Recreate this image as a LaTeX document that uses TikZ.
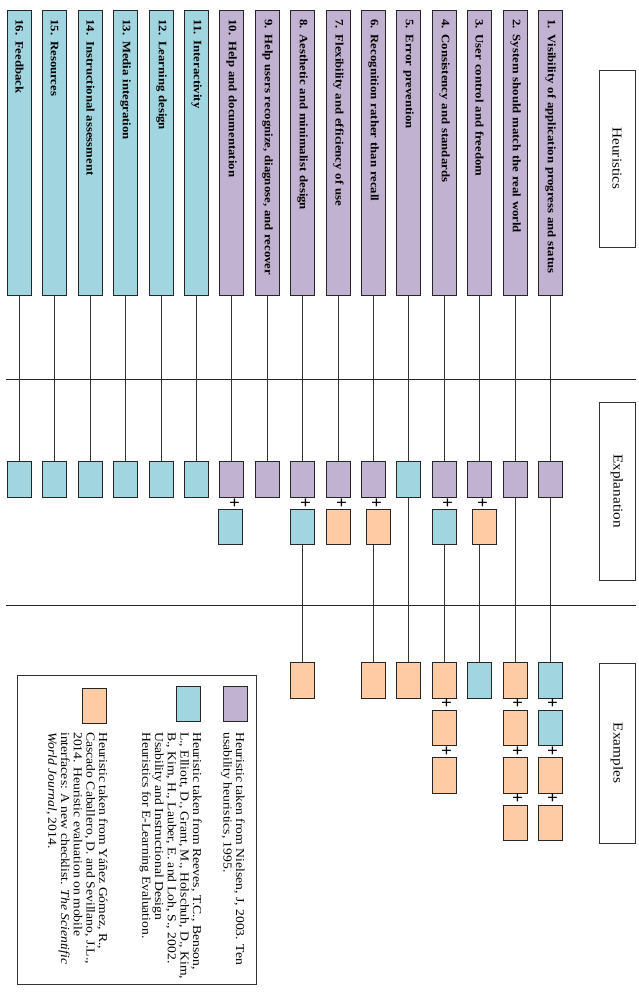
\documentclass[tikz,border=0pt]{standalone}
\usepackage{fontspec}
\setmainfont[FakeStretch=1.12]{Liberation Serif}

\definecolor{nielsen}{RGB}{194,178,209}
\definecolor{reeves}{RGB}{161,213,224}
\definecolor{yanez}{RGB}{255,203,165}

\tikzset{
    heur/.style={draw=black!85, line width=0.9pt, rotate=-90, minimum width=285pt, minimum height=24pt,
        text width=266pt, align=left, inner sep=0pt, font=\fontsize{11.4}{12}\selectfont\bfseries},
    card/.style={draw=black!85, line width=0.9pt, minimum width=24pt, minimum height=35.5pt, inner sep=0pt},
    head/.style={draw=black!80, line width=0.8pt, rotate=-90, minimum height=36pt, font=\fontsize{13.6}{15}\selectfont},
    plus/.style={inner sep=0pt, font=\fontsize{17}{17}\selectfont\bfseries},
    link/.style={draw=black!80, line width=1.6pt},
    refnote/.style={rotate=-90, anchor=north west, align=left, inner sep=0pt, font=\fontsize{12.2}{12.7}\selectfont}
}

\begin{document}
\begin{tikzpicture}[x=1pt, y=-1pt]
    \useasboundingbox (0,0) rectangle (639,992);

    % Section separators
    \draw[line width=1.2pt, black!85] (6,379.5) -- (636,379.5);
    \draw[line width=1.2pt, black!85] (6,605.5) -- (636,605.5);

    % Section headings
    \node[head, minimum width=177pt] (hHeur) at (617,158.5) {Heuristics};
    \node[head, minimum width=178pt] (hExpl) at (617,491) {Explanation};
    \node[head, minimum width=180pt] (hExam) at (617,753) {Examples};

    % Heuristics and first explanation card
    \foreach \i/\word/\col in {1/{1. Visibility of application progress and status}/nielsen,
            2/{2. System should match the real world}/nielsen,
            3/{3. User control and freedom}/nielsen,
            4/{4. Consistency and standards}/nielsen,
            5/{5. Error prevention}/nielsen,
            6/{6. Recognition rather than recall}/nielsen,
            7/{7. Flexibility and efficiency of use}/nielsen,
            8/{8. Aesthetic and minimalist design}/nielsen,
            9/{9. Help users recognize, diagnose, and recover}/nielsen,
            10/{10. Help and documentation}/nielsen,
            11/{11. Interactivity}/reeves,
            12/{12. Learning design}/reeves,
            13/{13. Media integration}/reeves,
            14/{14. Instructional assessment}/reeves,
            15/{15. Resources}/reeves,
            16/{16. Feedback}/reeves} {
        \pgfmathsetmacro\x{round(550-(\i-1)*35.4)+0.5}
        \node[heur, fill=\col] (h\i) at (\x,152.5) {\word};
        \pgfmathsetmacro\ecol{\i==5 ? "reeves" : "\col"}
        \node[card, fill=\ecol] (e\i) at (\x,479.5) {};
        \draw[link] (h\i.east) -- (e\i);
    }

    % Second explanation card
    \foreach \i/\col/\dx in {3/yanez/5, 4/reeves/0, 6/yanez/5, 7/yanez/0, 8/reeves/0, 10/reeves/-1} {
        \pgfmathsetmacro\x{round(550-(\i-1)*35.4)+0.5}
        \node[plus] (pe\i) at ({\x+3},503.5) {+};
        \node[card, fill=\col] (eb\i) at ({\x+\dx},527) {};
    }

    % Examples
    \foreach \i/\list in {1/{reeves,reeves,yanez,yanez}, 2/{yanez,yanez,yanez,yanez},
            3/{reeves}, 4/{yanez,yanez,yanez}, 5/{yanez}, 6/{yanez}, 8/{yanez}} {
        \pgfmathsetmacro\x{round(550-(\i-1)*35.4)+0.5}
        \foreach \c [count=\k] in \list {
            \node[card, fill=\c] (x\i-\k) at ({\x},{680.5+(\k-1)*47.5}) {};
            \ifnum\k>1
                \node[plus] (px\i-\k) at ({\x+2},{656.5+(\k-1)*47.5}) {+};
            \fi
        }
    }

    % Links from explanation to examples
    \draw[link] (e1) -- (x1-1);
    \draw[link] (e2) -- (x2-1);
    \draw[link] (x3-1.north |- eb3.south) -- (x3-1);
    \draw[link] (eb4) -- (x4-1);
    \draw[link] (e5) -- (x5-1);
    \draw[link] (x6-1.north |- eb6.south) -- (x6-1);
    \draw[link] (eb8) -- (x8-1);

    % Legend
    \node[draw=black!80, line width=0.8pt, minimum width=239pt, minimum height=309pt] (legend) at (136.5,829.5) {};
    \node[card, fill=nielsen] (kNielsen) at (235,704) {};
    \node[card, fill=reeves] (kReeves) at (188.5,704) {};
    \node[card, fill=yanez] (kYanez) at (94.5,706) {};
    \node[refnote] (tNielsen) at (245,732) {Heuristic taken from Nielsen, J, 2003. Ten\\usability heuristics, 1995.};
    \node[refnote] (tReeves) at (202,732) {Heuristic taken from Reeves, T.C., Benson,\\L., Elliott, D., Grant, M., Holschuh, D., Kim,\\B., Kim, H., Lauber, E. and Loh, S., 2002.\\Usability and Instructional Design\\Heuristics for E-Learning Evaluation.};
    \node[refnote] (tYanez) at (108,732) {Heuristic taken from Yáñez Gómez, R.,\\Cascado Caballero, D. and Sevillano, J.L.,\\2014. Heuristic evaluation on mobile\\interfaces: A new checklist. \textit{The Scientific}\\\textit{World Journal}, 2014.};
\end{tikzpicture}
\end{document}
